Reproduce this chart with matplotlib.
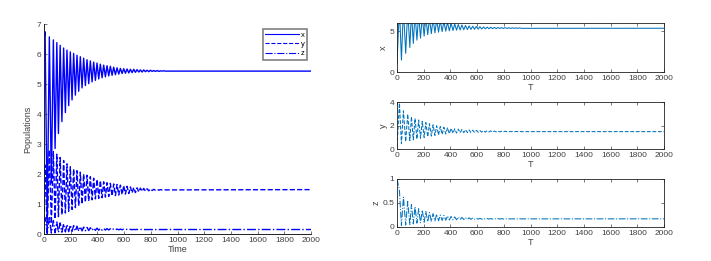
import numpy as np
import matplotlib
matplotlib.use("Agg")
import matplotlib.pyplot as plt

# ---- left chart: extrema (time, value) ----
left_t_hi = [8, 40, 70, 96, 121, 147, 172, 197, 222, 247, 272, 297, 322, 347, 372, 397, 422, 447,
             472, 497, 522, 547, 572, 597, 622, 647, 672, 697, 722, 747, 772, 797, 822, 847, 872, 897]
left_t_lo = [24, 55, 83, 108, 134, 160, 185, 210, 235, 260, 285, 310, 335, 360, 385, 410, 435, 460,
             485, 510, 535, 560, 585, 610, 635, 660, 685, 710, 735, 760, 785, 810, 835, 860, 885, 910]

x_hi = [6.74, 6.57, 6.47, 6.38, 6.29, 6.20, 6.13, 6.07, 6.02, 5.96, 5.91, 5.86, 5.81, 5.77, 5.73, 5.70, 5.66, 5.63,
        5.61, 5.59, 5.56, 5.54, 5.52, 5.51, 5.50, 5.49, 5.49, 5.48, 5.47, 5.47, 5.46, 5.46, 5.45, 5.45, 5.44, 5.44]
x_lo = [0.4, 1.7, 2.85, 3.35, 3.75, 4.05, 4.28, 4.47, 4.63, 4.76, 4.87, 4.95, 5.01, 5.07, 5.12, 5.17, 5.21, 5.24,
        5.27, 5.29, 5.31, 5.33, 5.35, 5.36, 5.37, 5.38, 5.39, 5.40, 5.40, 5.41, 5.41, 5.42, 5.42, 5.42, 5.43, 5.43]
y_hi = [2.3, 2.8, 2.75, 2.66, 2.55, 2.45, 2.34, 2.24, 2.17, 2.11, 2.06, 2.0, 1.96, 1.91, 1.86, 1.82, 1.78, 1.74,
        1.71, 1.69, 1.67, 1.65, 1.63, 1.61, 1.59, 1.57, 1.55, 1.54, 1.53, 1.52, 1.51, 1.50, 1.49, 1.49, 1.48, 1.48]
y_lo = [0.15, 0.35, 0.5, 0.58, 0.64, 0.70, 0.76, 0.82, 0.88, 0.94, 1.0, 1.06, 1.1, 1.14, 1.17, 1.19, 1.21, 1.23,
        1.25, 1.27, 1.28, 1.30, 1.32, 1.33, 1.35, 1.37, 1.38, 1.40, 1.42, 1.43, 1.44, 1.45, 1.46, 1.46, 1.47, 1.47]
z_hi = [0.55, 0.55, 0.45, 0.40, 0.37, 0.34, 0.32, 0.30, 0.28, 0.26, 0.245, 0.23, 0.22, 0.21, 0.20, 0.195, 0.19, 0.185,
        0.18, 0.175, 0.17, 0.167, 0.164, 0.161, 0.158, 0.156, 0.155, 0.154, 0.153, 0.152, 0.151, 0.15, 0.15, 0.15, 0.15, 0.15]
z_lo = [0.02, 0.03, 0.04, 0.05, 0.06, 0.07, 0.08, 0.09, 0.095, 0.10, 0.105, 0.11, 0.115, 0.12, 0.123, 0.126, 0.129, 0.132,
        0.134, 0.136, 0.138, 0.14, 0.141, 0.142, 0.143, 0.144, 0.145, 0.146, 0.147, 0.147, 0.148, 0.148, 0.149, 0.149, 0.149, 0.15]
left_start = [6.5, 0.5, 0.4]     # x, y, z at t=0
left_end = [5.43, 1.48, 0.15]    # x, y, z at t=2000

# ---- right panels ----
right_t_hi = [18, 48, 80, 108, 135, 162, 189, 216, 243, 270, 297, 324, 351, 378, 405, 432, 459,
              486, 513, 540, 567, 594, 621, 648, 675, 702, 729, 756, 783, 810, 837, 864, 891, 918]
right_t_lo = [33, 65, 96, 122, 149, 176, 203, 230, 257, 284, 311, 338, 365, 392, 419, 446, 473,
              500, 527, 554, 581, 608, 635, 662, 689, 716, 743, 770, 797, 824, 851, 878, 905, 932]

rx_hi = [8.0, 7.8, 7.6, 7.4, 7.2, 7.05, 6.9, 6.75, 6.6, 6.5, 6.4, 6.3, 6.2, 6.1, 6.0, 5.9, 5.83,
         5.76, 5.70, 5.65, 5.61, 5.58, 5.55, 5.52, 5.50, 5.48, 5.46, 5.45, 5.44, 5.43, 5.42, 5.41, 5.40, 5.40]
rx_lo = [1.46, 2.28, 3.0, 3.5, 3.9, 4.15, 4.4, 4.57, 4.7, 4.8, 4.88, 4.94, 5.0, 5.04, 5.08, 5.12, 5.15,
         5.18, 5.2, 5.22, 5.24, 5.26, 5.27, 5.29, 5.3, 5.31, 5.32, 5.33, 5.33, 5.34, 5.34, 5.35, 5.35, 5.35]
ry_hi = [3.92, 3.25, 2.97, 2.75, 2.6, 2.47, 2.36, 2.25, 2.15, 2.06, 1.98, 1.91, 1.85, 1.80, 1.76, 1.72, 1.69,
         1.66, 1.64, 1.62, 1.60, 1.58, 1.57, 1.56, 1.55, 1.54, 1.53, 1.52, 1.51, 1.51, 1.50, 1.50, 1.49, 1.49]
ry_lo = [0.45, 0.64, 0.72, 0.78, 0.85, 0.92, 0.98, 1.04, 1.1, 1.16, 1.2, 1.25, 1.28, 1.31, 1.34, 1.36, 1.38,
         1.39, 1.40, 1.41, 1.42, 1.43, 1.44, 1.44, 1.45, 1.45, 1.46, 1.46, 1.47, 1.47, 1.47, 1.48, 1.48, 1.48]
rz_hi = [0.76, 0.62, 0.53, 0.47, 0.42, 0.38, 0.35, 0.32, 0.30, 0.28, 0.265, 0.25, 0.24, 0.23, 0.22, 0.21, 0.205,
         0.2, 0.195, 0.19, 0.186, 0.183, 0.18, 0.178, 0.176, 0.175, 0.174, 0.173, 0.172, 0.171, 0.17, 0.17, 0.17, 0.17]
rz_lo = [0.03, 0.04, 0.05, 0.065, 0.08, 0.09, 0.1, 0.11, 0.12, 0.125, 0.13, 0.135, 0.14, 0.145, 0.148, 0.151, 0.154,
         0.156, 0.158, 0.16, 0.161, 0.162, 0.163, 0.164, 0.165, 0.166, 0.166, 0.167, 0.167, 0.168, 0.168, 0.168, 0.169, 0.169]
right_start = [1.06, 0.22, 1.0]
right_end = [5.36, 1.48, 0.17]


def series(t_hi, hi, t_lo, lo, v0, v_end):
    # merge peaks and troughs into one time-ordered path
    t = np.concatenate([[0], t_hi, t_lo, [2000]])
    v = np.concatenate([[v0], hi, lo, [v_end]])
    order = np.argsort(t)
    return t[order], v[order]


plt.rcParams['font.family'] = ['Liberation Sans', 'DejaVu Sans']
plt.rcParams['font.size'] = 6
txt = '#404040'

fig = plt.figure(figsize=(7.11, 2.61), dpi=100)

# left chart
ax = fig.add_axes([0.0619, 0.1034, 0.3755, 0.8046])
styles = ['-', '--', '-.']
names = ['x', 'y', 'z']
his = [x_hi, y_hi, z_hi]
los = [x_lo, y_lo, z_lo]
for i in range(3):
    t, v = series(left_t_hi, his[i], left_t_lo, los[i], left_start[i], left_end[i])
    ax.plot(t, v, color='blue', ls=styles[i], lw=1.0, label=names[i])
ax.set_xlim(0, 2000)
ax.set_ylim(0, 7)
ax.set_xticks(range(0, 2001, 200))
ax.set_yticks(range(0, 8))
ax.spines['top'].set_visible(False)
ax.spines['right'].set_visible(False)
for s in ['left', 'bottom']:
    ax.spines[s].set_color('#202020')
    ax.spines[s].set_linewidth(0.7)
ax.tick_params(direction='in', length=2, width=0.5, colors=txt, labelsize=6, pad=2)
ax.set_xlabel('Time', color=txt, fontsize=6.5, labelpad=1)
ax.set_ylabel('Populations', color=txt, fontsize=6.5, labelpad=3)
leg = ax.legend(loc='upper right', bbox_to_anchor=(0.985, 0.975), fontsize=5.5, frameon=True,
                fancybox=False, handlelength=4.5, handletextpad=0.2, borderpad=0.3,
                labelspacing=0.25, borderaxespad=0)
leg.get_frame().set_edgecolor('#606060')
leg.get_frame().set_linewidth(1.2)
for line in leg.get_lines():
    line.set_linewidth(0.8)

# right panels
rcol = '#0072BD'
boxes = [[0.5584, 0.7241, 0.3755, 0.1877],
         [0.5584, 0.4291, 0.3755, 0.1800],
         [0.5584, 0.1303, 0.3755, 0.1840]]
rhis = [rx_hi, ry_hi, rz_hi]
rlos = [rx_lo, ry_lo, rz_lo]
ylims = [(0, 6), (0, 4), (0, 1)]
yticks = [[0, 5], [0, 2, 4], [0, 0.5, 1]]
for i in range(3):
    a = fig.add_axes(boxes[i])
    t, v = series(right_t_hi, rhis[i], right_t_lo, rlos[i], right_start[i], right_end[i])
    a.plot(t, v, color=rcol, ls=styles[i], lw=0.75)
    a.set_xlim(0, 2000)
    a.set_ylim(*ylims[i])
    a.set_xticks(range(0, 2001, 200))
    a.set_yticks(yticks[i])
    a.set_yticklabels([('%g' % y) for y in yticks[i]])
    for s in a.spines.values():
        s.set_color('#202020')
        s.set_linewidth(0.6)
    a.tick_params(direction='in', length=2, width=0.5, colors=txt, labelsize=6, pad=2,
                  top=True, right=True)
    a.set_xlabel('T', color=txt, fontsize=6.5, labelpad=1)
    a.set_ylabel(names[i], color=txt, fontsize=6.5, labelpad=1)

fig.savefig('out.png', dpi=100)
